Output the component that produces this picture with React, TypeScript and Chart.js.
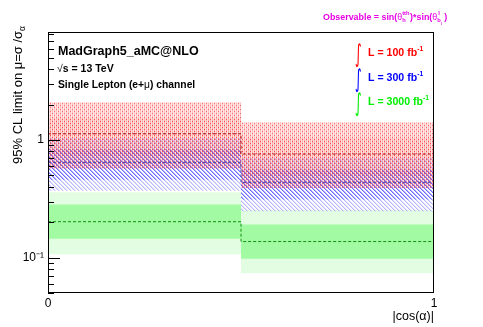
import React, { useEffect, useRef } from 'react';
import { Chart, registerables } from 'chart.js';
Chart.register(...registerables);

// ---- data ----
const binEdges = [0, 0.5, 1];
const lumiLabels = ['100', '300', '3000'];

const redMed = [1.13, 0.76];
const red1Lo = [0.74, 0.5];
const red1Hi = [1.55, 1.05];
const red2Lo = [0.57, 0.39];
const red2Hi = [2.1, 1.42];

const blueMed = [0.646, 0.437];
const blue1Lo = [0.46, 0.312];
const blue1Hi = [0.83, 0.56];
const blue2Lo = [0.37, 0.248];
const blue2Hi = [1.04, 0.708];

const greenMed = [0.202, 0.137];
const green1Lo = [0.145, 0.098];
const green1Hi = [0.283, 0.191];
const green2Lo = [0.107, 0.0736];
const green2Hi = [0.36, 0.252];

const xTicks = [0, 1];
const yTicks = [0.05, 0.06, 0.07, 0.08, 0.09, 0.1, 0.2, 0.3, 0.4, 0.5, 0.6, 0.7, 0.8, 0.9, 1, 2, 3, 4, 5, 6, 7, 8];
const yMajor = [0.1, 1];
const yLabels: Record<string, string> = { '0.1': '10\u207B\u00B9', '1': '1' };

const FONT = "'Liberation Sans', Arial, Helvetica, sans-serif";

function steps(vals: number[]) {
  return [
    { x: binEdges[0], y: vals[0] },
    { x: binEdges[1], y: vals[1] },
    { x: binEdges[2], y: vals[1] },
  ];
}

function dotPattern(bg: number, stripe: number, dot: number) {
  const c = document.createElement('canvas');
  c.width = 4; c.height = 4;
  const g = c.getContext('2d')!;
  g.fillStyle = `rgba(255,0,0,${bg})`; g.fillRect(0, 0, 4, 4);
  g.fillStyle = `rgba(255,0,0,${stripe})`; g.fillRect(0, 0, 1, 4); g.fillRect(2, 0, 1, 4);
  g.fillStyle = `rgba(255,0,0,${dot})`; g.fillRect(0, 1, 1, 1); g.fillRect(2, 3, 1, 1);
  return g.createPattern(c, 'repeat')!;
}

function hatchPattern(alpha: number) {
  const c = document.createElement('canvas');
  c.width = 4; c.height = 4;
  const g = c.getContext('2d')!;
  g.fillStyle = `rgba(0,0,255,${alpha})`;
  for (let i = 0; i < 4; i++) g.fillRect(i, i, 1, 1);
  g.fillStyle = `rgba(0,0,255,${alpha * 0.45})`;
  for (let i = 0; i < 4; i++) g.fillRect((i + 1) % 4, i, 1, 1);
  return g.createPattern(c, 'repeat')!;
}

type Part = { t: string; size: number; dy?: number; bold?: boolean; family?: string };
function drawParts(ctx: CanvasRenderingContext2D, parts: Part[], x: number, y: number, color: string, measureOnly = false) {
  let cx = x;
  for (const p of parts) {
    ctx.font = `${p.bold ? 'bold ' : ''}${p.size}px ${p.family || FONT}`;
    if (!measureOnly) {
      ctx.fillStyle = color;
      ctx.fillText(p.t, cx, y + (p.dy || 0));
    }
    cx += ctx.measureText(p.t).width;
  }
  return cx - x;
}

const decorPlugin = {
  id: 'decor',
  afterDraw(chart: any) {
    const { ctx, chartArea: a, scales } = chart;
    const y = scales.y;
    ctx.save();
    ctx.strokeStyle = '#000';
    ctx.lineWidth = 1;
    // y ticks (inside the frame)
    ctx.beginPath();
    for (const v of yTicks) {
      const py = Math.round(y.getPixelForValue(v)) + 0.5;
      const len = yMajor.includes(v) ? 12 : 6;
      ctx.moveTo(a.left, py);
      ctx.lineTo(a.left + len, py);
    }
    ctx.stroke();
    // frame
    ctx.strokeRect(a.left + 0.5, a.top + 0.5, a.right - a.left - 1, a.bottom - a.top - 1);

    ctx.textBaseline = 'alphabetic';
    ctx.textAlign = 'left';
    // top-left texts
    drawParts(ctx, [{ t: 'MadGraph5_aMC@NLO', size: 12.5, bold: true }], 58, 55, '#000');
    drawParts(ctx, [{ t: '\u221A', size: 10.5, bold: false }, { t: 's = 13 TeV', size: 10.5, bold: true }], 57, 72, '#000');
    drawParts(ctx, [{ t: 'Single Lepton (e+', size: 10.3, bold: true }, { t: '\u03BC', size: 10.3, bold: false }, { t: ') channel', size: 10.3, bold: true }], 58, 88, '#000');

    // legend entries
    const legColors = ['#ff0000', '#0000ff', '#00ee00'];
    const legBase = [55.5, 80.5, 105];
    for (let i = 0; i < lumiLabels.length; i++) {
      const bx = 355, by = legBase[i];
      ctx.save();
      ctx.translate(bx, by + 6);
      ctx.scale(1, 1.9);
      ctx.font = `13px 'DejaVu Sans', sans-serif`;
      ctx.fillStyle = legColors[i];
      ctx.fillText('\u222B', 0, 0);
      ctx.restore();
      drawParts(ctx, [
        { t: `L = ${lumiLabels[i]} fb`, size: 10.6, bold: true },
        { t: '-1', size: 6.8, bold: true, dy: -5 },
      ], 368, by, legColors[i]);
    }

    // observable (magenta)
    const mag = '#e600e6';
    let ox = 323;
    const oy = 20;
    ox += drawParts(ctx, [{ t: 'Observable = sin(', size: 8.9, bold: true }, { t: '\u03B8', size: 8.9 }], ox, oy, mag);
    ctx.font = `bold 5.8px ${FONT}`;
    ctx.fillStyle = mag;
    ctx.fillText('tth', ox, oy - 5);
    ctx.fillText('h', ox, oy + 2);
    ox += ctx.measureText('tth').width + 0.5;
    ox += drawParts(ctx, [{ t: ')*sin(', size: 8.9, bold: true }, { t: '\u03B8', size: 8.9 }], ox, oy, mag);
    ctx.font = `bold 5.8px ${FONT}`;
    ctx.fillText('l', ox + 1, oy - 5);
    ctx.fillText('b', ox, oy + 2);
    ctx.font = `bold 4px ${FONT}`;
    ctx.fillText('l', ox + 3.5, oy + 4.5);
    ox += 7;
    drawParts(ctx, [{ t: ')', size: 8.9, bold: true }], ox, oy, mag);

    // x title
    const xt: Part[] = [{ t: '|cos(', size: 12.5 }, { t: '\u03B1', size: 12.5 }, { t: ')|', size: 12.5 }];
    const xw = drawParts(ctx, xt, 0, 0, '#000', true);
    drawParts(ctx, xt, a.right - xw, 320, '#000');

    // y title (rotated)
    const yt: Part[] = [{ t: '95% CL limit on \u03BC=\u03C3 /\u03C3', size: 13 }, { t: '\u03B1', size: 8.5, dy: 3 }];
    const yw = drawParts(ctx, yt, 0, 0, '#000', true);
    ctx.save();
    ctx.translate(21.5, 26);
    ctx.rotate(-Math.PI / 2);
    drawParts(ctx, yt, -yw, 0, '#000');
    ctx.restore();

    ctx.restore();
  },
};

export default function App() {
  const ref = useRef<HTMLCanvasElement>(null);
  useEffect(() => {
    const canvas = ref.current!;
    const lightGreen = '#e2fde2';
    const darkGreen = '#a2fba2';
    const inv = { borderWidth: 0, borderColor: 'rgba(0,0,0,0)', pointRadius: 0, stepped: true as const };
    const datasets: any[] = [
      // 0..3 green bands
      { ...inv, data: steps(green2Hi), fill: 1, backgroundColor: lightGreen, order: 100 },
      { ...inv, data: steps(green2Lo), fill: false, order: 99 },
      { ...inv, data: steps(green1Hi), fill: 3, backgroundColor: darkGreen, order: 98 },
      { ...inv, data: steps(green1Lo), fill: false, order: 97 },
      // 4..7 blue bands
      { ...inv, data: steps(blue2Hi), fill: 5, backgroundColor: hatchPattern(0.28), order: 96 },
      { ...inv, data: steps(blue2Lo), fill: false, order: 95 },
      { ...inv, data: steps(blue1Hi), fill: 7, backgroundColor: hatchPattern(0.42), order: 94 },
      { ...inv, data: steps(blue1Lo), fill: false, order: 93 },
      // 8..11 red bands
      { ...inv, data: steps(red2Hi), fill: 9, backgroundColor: dotPattern(0.1, 0.16, 0.45), order: 92 },
      { ...inv, data: steps(red2Lo), fill: false, order: 91 },
      { ...inv, data: steps(red1Hi), fill: 11, backgroundColor: dotPattern(0.03, 0.06, 0.25), order: 90 },
      { ...inv, data: steps(red1Lo), fill: false, order: 89 },
      // medians
      { data: steps(greenMed), stepped: true, fill: false, borderColor: '#109010', borderWidth: 1, borderDash: [3, 2], pointRadius: 0, order: 3 },
      { data: steps(blueMed), stepped: true, fill: false, borderColor: '#4040a8', borderWidth: 1, borderDash: [3, 2], pointRadius: 0, order: 2 },
      { data: steps(redMed), stepped: true, fill: false, borderColor: '#a81010', borderWidth: 1, borderDash: [3, 2], pointRadius: 0, order: 1 },
    ];
    const chart = new Chart(canvas, {
      type: 'line',
      data: { datasets },
      options: {
        responsive: false,
        animation: false,
        events: [],
        layout: { padding: { top: 32, right: 49, left: 0, bottom: 0 } },
        plugins: { legend: { display: false }, tooltip: { enabled: false } },
        scales: {
          x: {
            type: 'linear',
            min: 0,
            max: 1,
            afterBuildTicks: (s: any) => { s.ticks = xTicks.map((v) => ({ value: v })); },
            afterFit: (s: any) => { s.height = 34; },
            grid: { display: false, drawTicks: false },
            border: { display: false },
            ticks: {
              autoSkip: false,
              maxRotation: 0,
              padding: 3,
              color: '#000',
              font: { family: FONT, size: 12 },
              callback: (v: any) => String(v),
            },
          },
          y: {
            type: 'logarithmic',
            min: 0.05,
            max: 8.3,
            afterBuildTicks: (s: any) => { s.ticks = yTicks.map((v) => ({ value: v })); },
            afterFit: (s: any) => { s.width = 48; },
            grid: { display: false, drawTicks: false },
            border: { display: false },
            ticks: {
              autoSkip: false,
              padding: 4,
              color: '#000',
              font: { family: FONT, size: 12 },
              callback: (v: any) => yLabels[String(v)] ?? '',
            },
          },
        },
      },
      plugins: [decorPlugin],
    });
    return () => chart.destroy();
  }, []);
  return (
    <div style={{ position: 'fixed', left: 0, top: 0, width: 483, height: 327, background: '#fff' }}>
      <canvas ref={ref} width={483} height={327} style={{ display: 'block' }} />
    </div>
  );
}
